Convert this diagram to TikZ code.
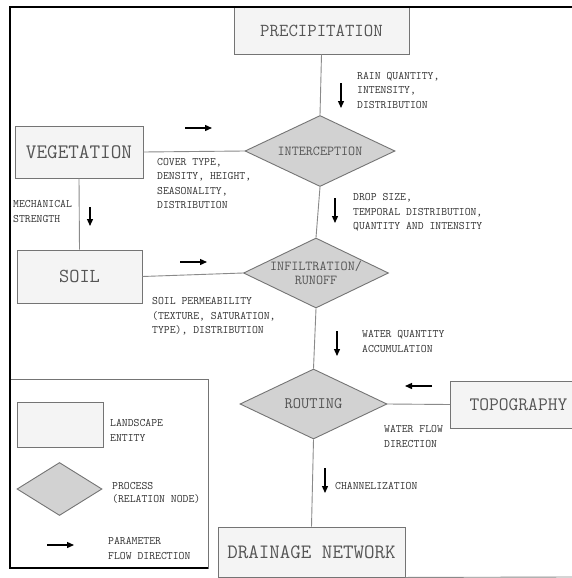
\documentclass[tikz,border=0pt]{standalone}
\usepackage{fontspec}
\setmainfont{Latin Modern Mono}
\usetikzlibrary{arrows.meta, shapes.geometric}
\definecolor{boxfill}{HTML}{F4F4F4}
\definecolor{boxline}{HTML}{747474}
\definecolor{procfill}{HTML}{D2D2D2}
\definecolor{linkgray}{HTML}{8A8A8A}
\definecolor{labelgray}{HTML}{555555}
\definecolor{textgray}{HTML}{333333}

\begin{document}
\begin{tikzpicture}[x=1pt, y=-1pt, >={Triangle[length=7pt, width=6pt]},
  entity/.style={draw=boxline, fill=boxfill, line width=0.9pt, text=labelgray, inner sep=0pt},
  process/.style={diamond, aspect=2.2, draw=boxline, fill=procfill, line width=0.9pt,
    text=labelgray, inner sep=0pt, align=center, font=\fontsize{13.7}{14}\selectfont},
  link/.style={linkgray, line width=0.9pt},
  flow/.style={black, line width=1.3pt, ->},
  param/.style={text=textgray, inner sep=0pt, anchor=north west, align=left,
    font=\fontsize{11.4}{14.5}\selectfont}]

% Page
\clip (0,0) rectangle (572,578);
\fill[white] (0,0) rectangle (572,578);

%%% Landscape entities %%%
\node[entity, minimum width=175, minimum height=47, font=\fontsize{18.3}{18}\selectfont] (precip) at (321.5,30.5) {PRECIPITATION};
\node[entity, minimum width=128, minimum height=52, font=\fontsize{20.6}{20}\selectfont] (veg) at (79,152) {VEGETATION};
\node[entity, minimum width=125, minimum height=53, font=\fontsize{19.8}{20}\selectfont] (soil) at (79.5,276.5) {SOIL};
\node[entity, minimum width=136, minimum height=47, anchor=west, font=\fontsize{19}{20}\selectfont] (topo) at (450,404.5) {TOPOGRAPHY};
\node[entity, minimum width=187, minimum height=50, font=\fontsize{20.4}{20}\selectfont] (drain) at (311.5,552) {DRAINAGE NETWORK};

%%% Processes %%%
\node[process, minimum width=150, minimum height=71] (intercept) at (320,151) {INTERCEPTION};
\node[process, minimum width=145, minimum height=70] (infil) at (316,273) {INFILTRATION/\\RUNOFF};
\node[process, minimum width=147, minimum height=70, font=\fontsize{16}{16}\selectfont] (routing) at (313.5,404) {ROUTING};

%%% Relations %%%
\draw[link] (precip.south) -- (intercept.north);
\draw[link] (veg.east) -- (intercept.west);
\draw[link] (veg.south) -- (soil.north);
\draw[link] (intercept.south) -- (infil.north);
\draw[link] (soil.east) -- (infil.west);
\draw[link] (infil.south) -- (routing.north);
\draw[link] (topo.west) -- (routing.east);
\draw[link] (routing.south) -- (drain.north);
\draw[link] (drain.south east) -- (572,577);

%%% Parameters %%%
% Precipitation -> interception
\draw[flow] (341,83) -- (341,108);
\node[param] (rain) at (357,72) {RAIN QUANTITY,\\INTENSITY,\\DISTRIBUTION};
% Vegetation -> interception
\draw[flow] (185,128) -- (212,128);
\node[param] (cover) at (157,158) {COVER TYPE,\\DENSITY, HEIGHT,\\SEASONALITY,\\DISTRIBUTION};
% Vegetation -> soil
\draw[flow] (90,207) -- (90,226);
\node[param] (mech) at (13,200.5) {MECHANICAL\\STRENGTH};
% Interception -> infiltration
\draw[flow] (335,198) -- (335,223);
\node[param] (drop) at (353,193.5) {DROP SIZE,\\TEMPORAL DISTRIBUTION,\\QUANTITY AND INTENSITY};
% Soil -> infiltration
\draw[flow] (180,262) -- (207,262);
\node[param] (perm) at (152,297.5) {SOIL PERMEABILITY\\(TEXTURE, SATURATION,\\TYPE), DISTRIBUTION};
% Infiltration -> routing
\draw[flow] (337,331) -- (337,356);
\node[param] (accum) at (362,330.5) {WATER QUANTITY\\ACCUMULATION};
% Topography -> routing
\draw[flow] (432,386) -- (405,386);
\node[param] (wflow) at (384,425.5) {WATER FLOW\\DIRECTION};
% Routing -> drainage
\draw[flow] (325,468) -- (325,493);
\node[param, anchor=west] (chan) at (335,486) {CHANNELIZATION};

%%% Legend %%%
\draw[boxline, line width=0.9pt] (10,379) rectangle (208,568);
\node[entity, minimum width=86, minimum height=45] (keyent) at (60,424.5) {};
\node[param] (keyenttxt) at (110,419.5) {LANDSCAPE\\ENTITY};
\node[process, minimum width=85, minimum height=53] (keyproc) at (59.5,489) {};
\node[param, font=\fontsize{11.4}{12.5}\selectfont] (keyproctxt) at (112,482.5) {PROCESS\\(RELATION NODE)};
\draw[flow] (47,545) -- (74,545);
\node[param] (keyflowtxt) at (108,537.5) {PARAMETER\\FLOW DIRECTION};

% Frame
\draw[black, line width=1.3pt] (572,7) -- (10,7) -- (10,568) -- (208,568);

\end{tikzpicture}
\end{document}
